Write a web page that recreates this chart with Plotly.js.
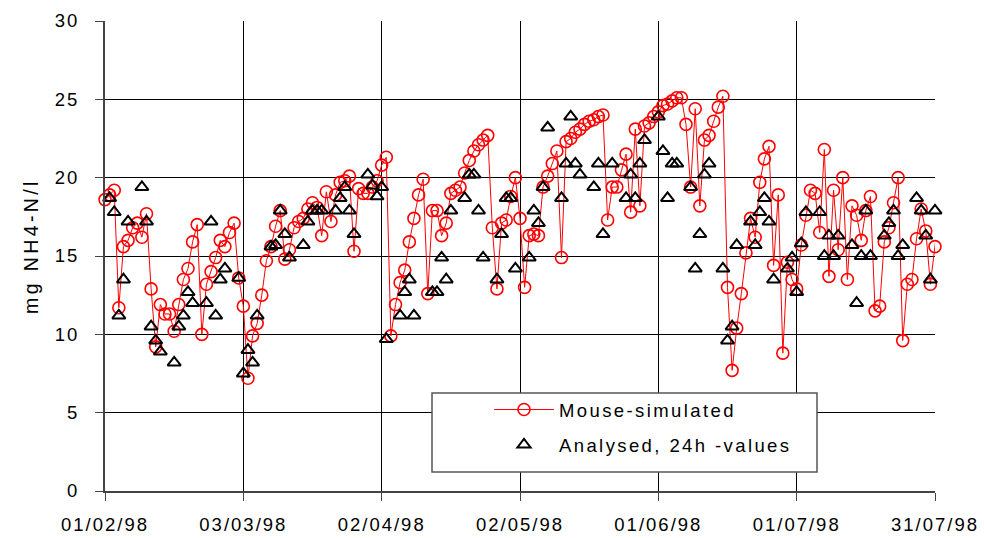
<!DOCTYPE html>
<html>
<head>
<meta charset="utf-8">
<script src="https://cdn.plot.ly/plotly-3.0.1.min.js"></script>
<style>
  html, body { margin: 0; padding: 0; background: #fff; }
  #chart { width: 984px; height: 538px; }
  .xtick text, .ytick text { letter-spacing: 2px; }
  .legendtext { letter-spacing: 2.4px; }
  .annotation-text { letter-spacing: 3.4px; }
</style>
</head>
<body>
<div id="chart"></div>
<script>
// ---- data ----
const startDate = '1998-02-01';

// Mouse-simulated, one value per day starting 01/02/98
const simulatedValues = [
  18.6, 18.9, 19.2, 11.7, 15.6, 16.0, 16.8, 17.1, 16.2, 17.7,
  12.9, 9.2, 11.9, 11.3, 11.3, 10.2, 11.9, 13.5, 14.2, 15.9,
  17.0, 10.0, 13.2, 14.0, 14.9, 16.0, 15.6, 16.5, 17.1, 13.6,
  11.8, 7.2, 9.9, 10.7, 12.5, 14.7, 15.6, 16.9, 17.9, 14.8,
  15.4, 16.8, 17.2, 17.4, 18.0, 18.4, 18.1, 16.3, 19.1, 17.2,
  18.9, 19.7, 19.8, 20.1, 15.3, 19.3, 19.0, 19.0, 19.4, 19.8,
  20.8, 21.3, 9.9, 11.9, 13.3, 14.1, 15.9, 17.4, 18.9, 19.9,
  12.6, 17.9, 17.9, 16.3, 17.1, 19.0, 19.2, 19.4, 20.3, 21.1,
  21.7, 22.1, 22.4, 22.7, 16.8, 12.9, 17.1, 17.3, 18.8, 20.0,
  17.4, 13.0, 16.3, 16.4, 16.3, 19.4, 20.1, 20.9, 21.7, 14.9,
  22.3, 22.5, 22.9, 23.1, 23.4, 23.6, 23.7, 23.9, 24.0, 17.3,
  19.4, 19.4, 20.5, 21.5, 17.8, 23.1, 18.2, 23.3, 23.5, 23.9,
  24.2, 24.6, 24.7, 24.9, 25.1, 25.1, 23.4, 19.4, 24.4, 18.2,
  22.4, 22.7, 23.6, 24.5, 25.2, 13.0, 7.7, 10.4, 12.6, 15.2,
  17.4, 16.2, 19.7, 21.2, 22.0, 14.4, 18.9, 8.8, 14.6, 13.5,
  12.9, 15.7, 17.6, 19.2, 19.0, 16.5, 21.8, 13.7, 19.2, 15.4,
  20.0, 13.5, 18.2, 17.6, 16.0, 17.9, 18.8, 11.5, 11.8, 15.9,
  16.8, 18.4, 20.0, 9.6, 13.2, 13.5, 16.1, 18.0, 16.6, 13.2,
  15.6, 18.1
];

// Analysed 24h values: day number after 01/02/98 and value
const analysedDays = [
  1, 2, 3, 4, 5, 8, 9, 10, 11, 12,
  15, 16, 17, 18, 19, 22, 23, 24, 25, 26,
  29, 30, 31, 32, 33, 36, 37, 38, 39, 40,
  43, 44, 45, 46, 47, 50, 51, 52, 53, 54,
  57, 58, 59, 60, 61, 64, 65, 66, 67, 71,
  72, 73, 74, 75, 78, 79, 80, 81, 82, 85,
  86, 87, 88, 89, 92, 93, 94, 95, 96, 99,
  100, 101, 102, 103, 106, 107, 108, 110, 113, 114,
  115, 116, 117, 120, 121, 122, 123, 124, 127, 128,
  129, 130, 131, 134, 135, 136, 137, 140, 141, 142,
  143, 144, 145, 148, 149, 150, 151, 152, 155, 156,
  157, 158, 159, 162, 163, 164, 165, 166, 169, 170,
  171, 172, 173, 176, 177, 178, 179, 180
];
const analysedValues = [
  18.7, 17.8, 11.2, 13.5, 17.2, 19.4, 17.2, 10.5, 9.6, 8.9,
  8.2, 10.5, 11.2, 12.7, 12.0, 12.0, 17.2, 11.2, 13.5, 14.2,
  13.6, 7.5, 9.0, 8.2, 11.2, 15.6, 15.7, 17.9, 16.4, 14.9,
  15.7, 17.2, 17.9, 17.9, 17.9, 17.9, 18.7, 19.4, 17.9, 16.4,
  20.2, 19.5, 18.8, 19.4, 9.7, 11.2, 12.7, 13.5, 11.2, 12.7,
  12.7, 14.9, 13.5, 17.9, 18.7, 20.2, 20.2, 17.9, 14.9, 13.5,
  16.4, 18.7, 18.7, 14.2, 14.9, 17.9, 17.1, 19.4, 23.2, 18.7,
  20.9, 23.9, 20.9, 20.2, 19.4, 20.9, 16.4, 20.9, 18.7, 20.2,
  18.7, 20.9, 22.4, 23.9, 21.7, 18.7, 20.9, 20.9, 19.4, 14.2,
  16.4, 20.2, 20.9, 14.2, 9.6, 10.5, 15.7, 17.2, 15.7, 17.8,
  18.7, 17.2, 13.5, 14.2, 14.9, 12.7, 15.8, 17.8, 17.8, 15.0,
  16.3, 15.0, 16.3, 15.7, 12.0, 15.0, 17.9, 15.0, 16.3, 17.1,
  17.9, 15.0, 15.7, 18.7, 17.9, 16.3, 13.5, 17.9
];

const tickDates  = ['1998-02-01', '1998-03-03', '1998-04-02', '1998-05-02', '1998-06-01', '1998-07-01', '1998-07-31'];
const tickLabels = ['01/02/98', '03/03/98', '02/04/98', '02/05/98', '01/06/98', '01/07/98', '31/07/98'];

const seriesNames = ['Mouse-simulated', 'Analysed, 24h -values'];
const yTitle = 'mg NH4-N/l';

// ---- helpers ----
function dayToDate(d) {
  const base = new Date(startDate + 'T00:00:00Z');
  base.setUTCDate(base.getUTCDate() + d);
  return base.toISOString().slice(0, 10);
}
const simulatedDates = simulatedValues.map((_, i) => dayToDate(i));
const analysedDates = analysedDays.map(dayToDate);

const FONT = 'Liberation Sans, Arial, sans-serif';

const traces = [
  {
    type: 'scatter', mode: 'lines+markers', name: seriesNames[0],
    x: simulatedDates, y: simulatedValues,
    line: { color: '#ff0000', width: 1 },
    marker: { symbol: 'circle-open', size: 12, color: '#ff0000', line: { color: '#ff0000', width: 1.6 } },
    cliponaxis: false, legendgroup: 'a'
  },
  {
    type: 'scatter', mode: 'markers', name: seriesNames[1],
    x: analysedDates, y: analysedValues,
    marker: { symbol: 'triangle-up-open', size: 11.5, color: '#000000', line: { color: '#000000', width: 2 } },
    cliponaxis: false, legendgroup: 'b'
  }
];

const layout = {
  width: 984, height: 538,
  margin: { l: 105, r: 49, t: 21, b: 47 },
  paper_bgcolor: '#ffffff', plot_bgcolor: '#ffffff',
  font: { family: FONT, size: 18.5, color: '#000' },
  showlegend: true,
  xaxis: {
    type: 'date',
    range: ['1998-02-01', '1998-07-31'],
    tickmode: 'array', tickvals: tickDates, ticktext: tickLabels,
    showgrid: true, gridcolor: '#000', gridwidth: 1,
    showline: true, linecolor: '#444', linewidth: 2,
    ticks: 'outside', ticklen: 8, tickcolor: '#444', tickwidth: 1,
    ticklabelstandoff: 8,
    zeroline: false, fixedrange: true,
    tickfont: { family: FONT, size: 18.5, color: '#000' }
  },
  yaxis: {
    range: [0, 30], dtick: 5, tick0: 0,
    showgrid: true, gridcolor: '#000', gridwidth: 1,
    showline: true, linecolor: '#444', linewidth: 2,
    ticks: 'outside', ticklen: 8, tickcolor: '#444', tickwidth: 1,
    ticklabelstandoff: 12,
    zeroline: false, fixedrange: true,
    tickfont: { family: FONT, size: 18.5, color: '#000' }
  },
  annotations: [
    {
      text: yTitle, textangle: -90,
      xref: 'paper', yref: 'paper',
      x: (31 - 105) / 830, y: (491 - 246) / 470,
      xanchor: 'center', yanchor: 'middle', showarrow: false,
      font: { family: FONT, size: 19.5, color: '#000' }
    }
  ],
  legend: {
    x: (489 - 105) / 830, y: (491 - 391) / 470,
    xanchor: 'left', yanchor: 'top',
    bgcolor: 'rgba(0,0,0,0)', borderwidth: 0,
    itemwidth: 60, tracegroupgap: 8, traceorder: 'grouped',
    font: { family: FONT, size: 18.5, color: '#000' }
  },
  shapes: [
    {
      type: 'rect', xref: 'paper', yref: 'paper', layer: 'above',
      x0: (432 - 105) / 830, x1: (817 - 105) / 830,
      y0: (491 - 472) / 470, y1: (491 - 393) / 470,
      line: { color: '#555', width: 1.5 }, fillcolor: '#ffffff'
    }
  ]
};

Plotly.newPlot('chart', traces, layout, { displayModeBar: false, staticPlot: true });
</script>
</body>
</html>
